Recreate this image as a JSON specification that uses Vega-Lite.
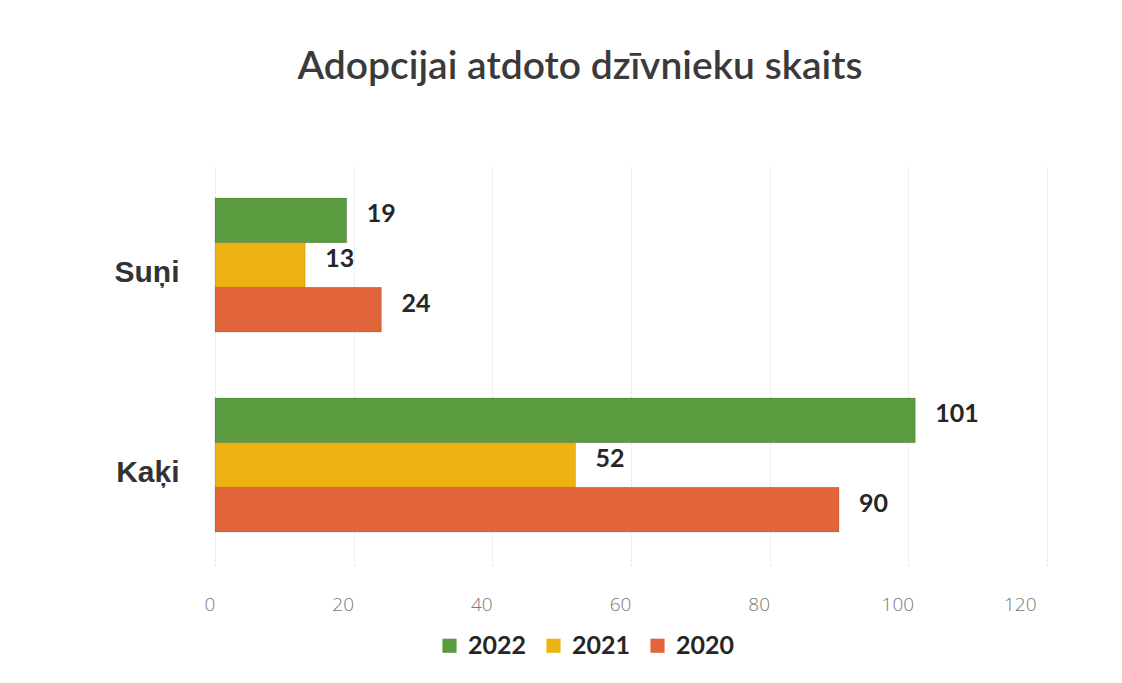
{
  "$schema": "https://vega.github.io/schema/vega-lite/v6.json",
  "autosize": "none",
  "width": 832,
  "height": 400,
  "padding": {"left": 215, "top": 165, "right": 75, "bottom": 118},
  "background": "white",
  "config": {"view": {"stroke": null}},
  "title": {
    "text": "Adopcijai atdoto dzīvnieku skaits",
    "font": "Lato",
    "fontSize": 39,
    "fontWeight": 600,
    "color": "#3a3a3a",
    "anchor": "middle",
    "dx": -51,
    "offset": 78
  },
  "data": {
    "values": [
      {"dzivnieks": "Suņi", "gads": "2022", "skaits": 19},
      {"dzivnieks": "Suņi", "gads": "2021", "skaits": 13},
      {"dzivnieks": "Suņi", "gads": "2020", "skaits": 24},
      {"dzivnieks": "Kaķi", "gads": "2022", "skaits": 101},
      {"dzivnieks": "Kaķi", "gads": "2021", "skaits": 52},
      {"dzivnieks": "Kaķi", "gads": "2020", "skaits": 90}
    ]
  },
  "encoding": {
    "y": {
      "field": "dzivnieks",
      "type": "nominal",
      "sort": ["Suņi", "Kaķi"],
      "scale": {"paddingInner": 0.33, "paddingOuter": 0.165},
      "axis": {
        "title": null,
        "domain": false,
        "ticks": false,
        "labelFont": "Liberation Sans",
        "labelFontSize": 30,
        "labelFontWeight": "bold",
        "labelColor": "#333333",
        "labelPadding": 36,
        "labelOffset": 8
      }
    },
    "yOffset": {
      "field": "gads",
      "type": "nominal",
      "sort": ["2022", "2021", "2020"],
      "scale": {"paddingInner": 0, "paddingOuter": 0}
    },
    "x": {
      "field": "skaits",
      "type": "quantitative",
      "scale": {"domain": [0, 120], "nice": false},
      "axis": {
        "title": null,
        "values": [0, 20, 40, 60, 80, 100, 120],
        "domain": false,
        "ticks": false,
        "grid": true,
        "gridColor": "#e0e0e0",
        "gridDash": [2, 2],
        "labelFont": "Open Sans",
        "labelFontWeight": 300,
        "labelFontSize": 19,
        "labelColor": "#777777",
        "labelPadding": 30,
        "labelOffset": -11
      }
    }
  },
  "layer": [
    {
      "mark": {"type": "bar", "stroke": "#00000022", "strokeWidth": 1},
      "encoding": {
        "color": {
          "field": "gads",
          "type": "nominal",
          "sort": ["2022", "2021", "2020"],
          "scale": {"domain": ["2022", "2021", "2020"], "range": ["#5B9B3F", "#EDB312", "#E2643B"]},
          "legend": {
            "title": null,
            "orient": "none",
            "direction": "horizontal",
            "legendX": 222,
            "legendY": 468,
            "symbolType": "square",
            "symbolSize": 200,
            "symbolStrokeWidth": 0,
            "labelFont": "Lato",
            "labelFontSize": 25,
            "labelFontWeight": "bold",
            "labelColor": "#262626",
            "columnPadding": 14,
            "labelOffset": 6
          }
        }
      }
    },
    {
      "mark": {
        "type": "text",
        "align": "left",
        "baseline": "middle",
        "dx": 20,
        "dy": -6,
        "font": "Lato",
        "fontSize": 25,
        "fontWeight": "bold",
        "color": "#262626"
      },
      "encoding": {
        "text": {"field": "skaits", "type": "quantitative"}
      }
    }
  ]
}
